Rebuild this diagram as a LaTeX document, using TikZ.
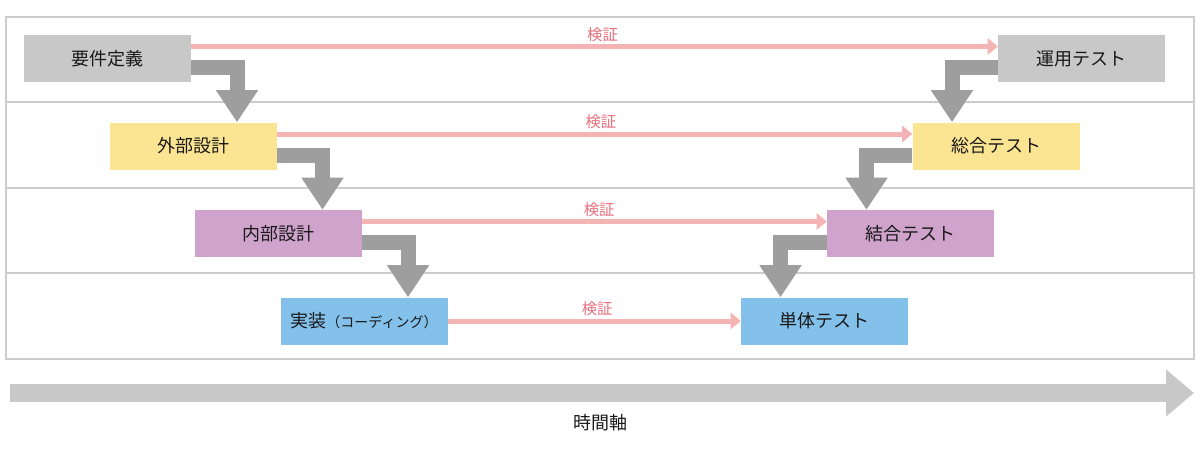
\documentclass[tikz,border=0pt]{standalone}
\usepackage{fontspec}
\setmainfont{Noto Sans CJK JP}
\usetikzlibrary{arrows.meta}
\definecolor{gbox}{HTML}{C8C8C8}
\definecolor{ybox}{HTML}{FCE592}
\definecolor{pbox}{HTML}{CFA3CC}
\definecolor{bbox}{HTML}{83C0EA}
\definecolor{garr}{HTML}{9D9E9D}
\definecolor{pline}{HTML}{F4B4B4}
\definecolor{ptext}{HTML}{E8707E}
\definecolor{frame}{HTML}{CCCCCC}
\tikzset{
  stage/.style={minimum width=125.25pt, minimum height=35.25pt, inner sep=0pt, font=\fontsize{13.5}{15}\selectfont, text=black!90},
  flow/.style={draw=garr, line width=11.25pt, -{Triangle[length=24pt,width=30pt]}},
  verify/.style={draw=pline, line width=3.75pt, -{Triangle[length=7.5pt,width=12pt]}},
  vlabel/.style={text=ptext, font=\fontsize{11.5}{13}\selectfont, above, inner sep=2pt},
}
\begin{document}
\begin{tikzpicture}[x=0.75pt,y=-0.75pt]
\useasboundingbox (0,0) rectangle (1200,450);
\fill[white] (0,0) rectangle (1200,450);
\draw[frame, line width=1.5pt] (6,17) rectangle (1194,359);
\foreach \yy in {102,188,273} \draw[frame, line width=1.5pt] (6,\yy) -- (1194,\yy);
\node[stage, fill=gbox] (r1) at (107.5,58.5) {要件定義};
\node[stage, fill=ybox] (l2) at (193,146) {外部設計};
\node[stage, fill=pbox] (l3) at (278.5,233.5) {内部設計};
\node[stage, fill=bbox] (l4) at (364,321) {実装{\fontsize{10.5}{12}\selectfont（コーディング）}};
\node[stage, fill=bbox] (r4) at (824.5,321) {単体テスト};
\node[stage, fill=pbox] (r3) at (910.5,233.5) {結合テスト};
\node[stage, fill=ybox] (r2) at (996,146) {総合テスト};
\node[stage, fill=gbox] (r0) at (1081.5,58.5) {運用テスト};
% grey flow arrows
\draw[flow] ([yshift=-6.75pt]r1.east) -| ([xshift=33pt]l2.north);
\draw[flow] ([yshift=-6.75pt]l2.east) -| ([xshift=33pt]l3.north);
\draw[flow] ([yshift=-6.75pt]l3.east) -| ([xshift=33pt]l4.north);
\draw[flow] ([yshift=-6.75pt]r0.west) -| ([xshift=-33pt]r2.north);
\draw[flow] ([yshift=-6.75pt]r2.west) -| ([xshift=-33pt]r3.north);
\draw[flow] ([yshift=-6.75pt]r3.west) -| ([xshift=-33pt]r4.north);
% verification arrows
\draw[verify] ([yshift=9pt]r1.east) -- node[vlabel, pos=0.51]{検証} ([yshift=9pt]r0.west);
\draw[verify] ([yshift=9pt]l2.east) -- node[vlabel, pos=0.51]{検証} ([yshift=9pt]r2.west);
\draw[verify] ([yshift=9pt]l3.east) -- node[vlabel, pos=0.51]{検証} ([yshift=9pt]r3.west);
\draw[verify] (l4.east) -- node[vlabel, pos=0.51]{検証} (r4.west);
% time axis
\coordinate (t0) at (10,393);
\coordinate (t1) at (1194,393);
\draw[gbox, line width=13.5pt, -{Triangle[length=21pt,width=34pt]}] (t0) -- (t1);
\node[font=\fontsize{13.5}{15}\selectfont, text=black!90] (tl) at (600,423) {時間軸};
\end{tikzpicture}
\end{document}
